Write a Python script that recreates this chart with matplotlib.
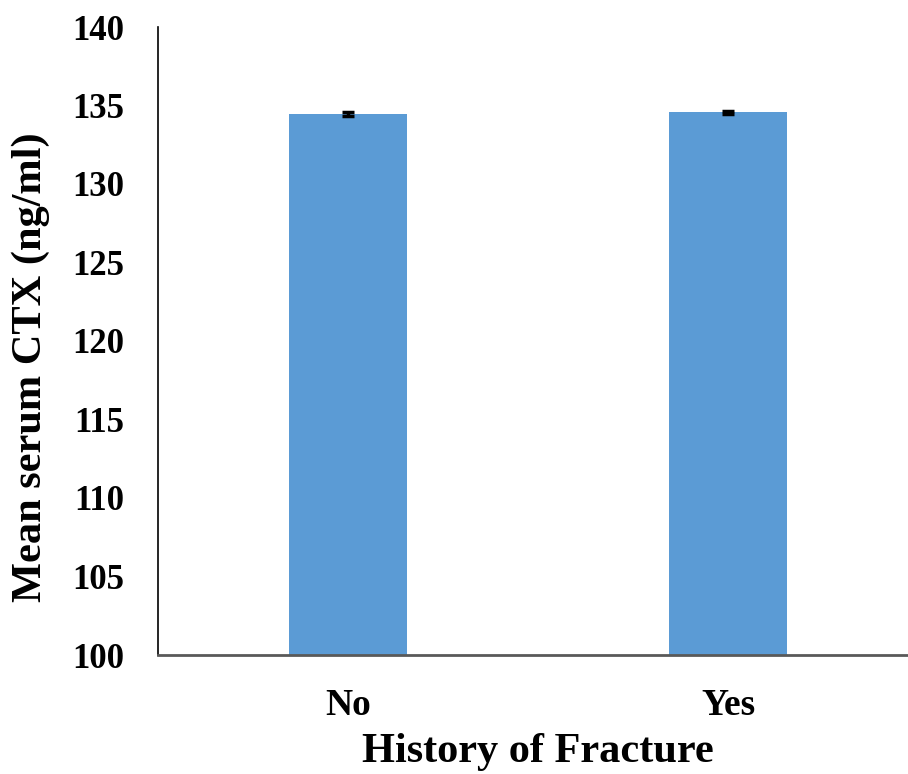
import matplotlib
matplotlib.use("Agg")
import matplotlib.pyplot as plt

categories = ["No", "Yes"]
means = [134.46, 134.57]
errors = [0.1, 0.1]
yticks = [100, 105, 110, 115, 120, 125, 130, 135, 140]

plt.rcParams["font.family"] = ["Liberation Serif", "DejaVu Serif"]
plt.rcParams["font.weight"] = "bold"

fig = plt.figure(figsize=(9.08, 7.74), dpi=100)
W, H = 908, 774
# axes from x=158 to 918 (beyond right edge), y from 655 to 27
ax = fig.add_axes([158 / W, (H - 655) / H, 760 / W, (655 - 27) / H])

x = range(len(categories))
ax.bar(x, [m - 100 for m in means], bottom=100, width=0.313, color="#5B9BD5", zorder=2)
ax.errorbar(x, means, yerr=errors, fmt="none", ecolor="black", elinewidth=2.5,
            capsize=4.3, capthick=2.5, zorder=3)

ax.set_xlim(-0.5, 1.5)
ax.set_ylim(100, 140)
ax.set_yticks(yticks)
ax.set_xticks(list(x))
ax.set_xticklabels(categories)
ax.tick_params(axis="x", length=0, labelsize=27, pad=24)
ax.tick_params(axis="y", length=0, labelsize=25, pad=24)
for lab in ax.get_xticklabels() + ax.get_yticklabels():
    lab.set_fontweight("bold")

for s in ["top", "right"]:
    ax.spines[s].set_visible(False)
ax.spines["left"].set_color("black")
ax.spines["left"].set_linewidth(1.2)
ax.spines["bottom"].set_color("#595959")
ax.spines["bottom"].set_linewidth(2)

ax.set_xlabel("History of Fracture", fontsize=30.5, fontweight="bold")
ax.set_ylabel("Mean serum CTX (ng/ml)", fontsize=30.5, fontweight="bold")
ax.xaxis.set_label_coords((538 - 158) / 760, -(752 - 655) / 628)
ax.yaxis.set_label_coords(-(158 - 31) / 760, (655 - 367) / 628)
ax.xaxis.label.set_va("center")
ax.yaxis.label.set_va("center")

fig.savefig("out.png", dpi=100)
